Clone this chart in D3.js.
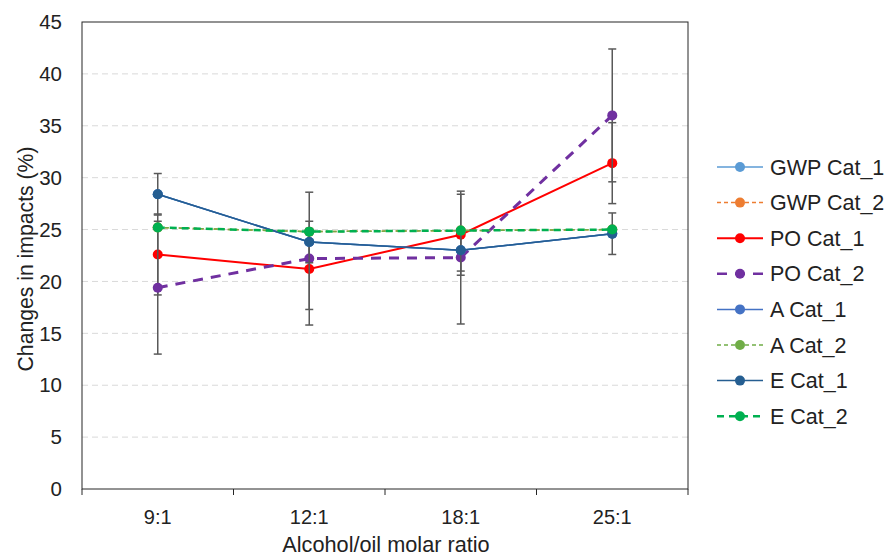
<!DOCTYPE html>
<html>
<head>
<meta charset="utf-8">
<script src="https://cdn.jsdelivr.net/npm/d3@7"></script>
<style>
  body { margin: 0; background: #fff; }
  text { font-family: "Liberation Sans", Arial, sans-serif; fill: #222; }
</style>
</head>
<body>
<svg id="chart"></svg>
<script>
const ratios = ["9:1", "12:1", "18:1", "25:1"];
const yTicks = [0, 5, 10, 15, 20, 25, 30, 35, 40, 45];

const gwpCat1 = [28.4, 23.8, 23.0, 24.6];
const gwpCat2 = [25.2, 24.8, 24.9, 25.0];
const poCat1 = [22.6, 21.2, 24.5, 31.4];
const poCat2 = [19.4, 22.2, 22.3, 36.0];
const aCat1 = [28.4, 23.8, 23.0, 24.6];
const aCat2 = [25.2, 24.8, 24.9, 25.0];
const eCat1 = [28.4, 23.8, 23.0, 24.6];
const eCat2 = [25.2, 24.8, 24.9, 25.0];

const poCat1Err = [3.9, 3.9, 3.9, 3.9];
const poCat2Err = [6.4, 6.4, 6.4, 6.4];
const eCat1Err = [2.0, 2.0, 2.0, 2.0];

const series = [
  { name: "GWP Cat_1", values: gwpCat1, color: "#5B9BD5", width: 1.5, dash: null },
  { name: "GWP Cat_2", values: gwpCat2, color: "#ED7D31", width: 1.5, dash: "4,3" },
  { name: "PO Cat_1", values: poCat1, color: "#FF0000", width: 2, dash: null, err: poCat1Err },
  { name: "PO Cat_2", values: poCat2, color: "#7030A0", width: 3, dash: "10,8", err: poCat2Err },
  { name: "A Cat_1", values: aCat1, color: "#4472C4", width: 1.5, dash: null },
  { name: "A Cat_2", values: aCat2, color: "#70AD47", width: 1.5, dash: "4,3" },
  { name: "E Cat_1", values: eCat1, color: "#255E91", width: 1.5, dash: null, err: eCat1Err },
  { name: "E Cat_2", values: eCat2, color: "#00B050", width: 2.5, dash: "7,5" }
];

const margin = { top: 22, right: 200, bottom: 67, left: 82 };
const W = 888, H = 556;
const width = W - margin.left - margin.right;
const height = H - margin.top - margin.bottom;

const svg = d3.select("#chart").attr("width", W).attr("height", H);
const g = svg.append("g").attr("transform", `translate(${margin.left},${margin.top})`);

const x = d3.scaleBand().domain(ratios).range([0, width]);
const y = d3.scaleLinear().domain([0, 45]).range([height, 0]);
const cx = d => x(d) + x.bandwidth() / 2;

// gridlines
g.selectAll(".grid")
  .data(yTicks.filter(t => t > 0 && t < 45))
  .enter().append("line")
  .attr("x1", 0).attr("x2", width)
  .attr("y1", d => y(d)).attr("y2", d => y(d))
  .attr("stroke", "#D9D9D9").attr("stroke-width", 1)
  .attr("stroke-dasharray", "6,4");

// frame
g.append("rect")
  .attr("width", width).attr("height", height)
  .attr("fill", "none").attr("stroke", "#262626").attr("stroke-width", 1);

// x axis ticks at band edges
const xEdges = ratios.map(r => x(r)).concat([width]);
g.selectAll(".xtick").data(xEdges).enter().append("line")
  .attr("x1", d => d).attr("x2", d => d)
  .attr("y1", height).attr("y2", height + 6)
  .attr("stroke", "#262626");

g.selectAll(".xlabel").data(ratios).enter().append("text")
  .attr("x", d => cx(d)).attr("y", height + 35)
  .attr("text-anchor", "middle").attr("font-size", 20)
  .text(d => d);

g.selectAll(".ylabel").data(yTicks).enter().append("text")
  .attr("x", -20).attr("y", d => y(d)).attr("dy", "0.35em")
  .attr("text-anchor", "end").attr("font-size", 20.5)
  .text(d => d);

svg.append("text")
  .attr("x", margin.left + width / 2 + 1).attr("y", 552)
  .attr("text-anchor", "middle").attr("font-size", 21.7)
  .text("Alcohol/oil molar ratio");

svg.append("text")
  .attr("transform", `translate(33,259) rotate(-90)`)
  .attr("text-anchor", "middle").attr("font-size", 21.2)
  .text("Changes in impacts (%)");

const line = d3.line().x((d, i) => cx(ratios[i])).y(d => y(d));

series.forEach(s => {
  const sg = g.append("g");
  if (s.err) {
    const eg = sg.append("g").attr("stroke", "#595959").attr("stroke-width", 1.5);
    s.values.forEach((v, i) => {
      const px = cx(ratios[i]);
      const hi = y(v + s.err[i]), lo = y(v - s.err[i]);
      eg.append("line").attr("x1", px).attr("x2", px).attr("y1", hi).attr("y2", lo);
      eg.append("line").attr("x1", px - 4).attr("x2", px + 4).attr("y1", hi).attr("y2", hi);
      eg.append("line").attr("x1", px - 4).attr("x2", px + 4).attr("y1", lo).attr("y2", lo);
    });
  }
  sg.append("path")
    .attr("d", line(s.values))
    .attr("fill", "none").attr("stroke", s.color)
    .attr("stroke-width", s.width)
    .attr("stroke-dasharray", s.dash);
  sg.selectAll("circle").data(s.values).enter().append("circle")
    .attr("cx", (d, i) => cx(ratios[i])).attr("cy", d => y(d))
    .attr("r", 5).attr("fill", s.color);
});

// legend
const legend = svg.append("g").attr("transform", "translate(717,167)");
series.forEach((s, i) => {
  const lg = legend.append("g").attr("transform", `translate(0,${i * 35.6})`);
  lg.append("line").attr("x1", 0).attr("x2", 46).attr("y1", 0).attr("y2", 0)
    .attr("stroke", s.color).attr("stroke-width", Math.min(s.width, 2.5))
    .attr("stroke-dasharray", s.dash);
  lg.append("circle").attr("cx", 23).attr("cy", 0).attr("r", 5).attr("fill", s.color);
  lg.append("text").attr("x", 53).attr("y", 0).attr("dy", "0.35em")
    .attr("font-size", 21.5).text(s.name);
});
</script>
</body>
</html>
